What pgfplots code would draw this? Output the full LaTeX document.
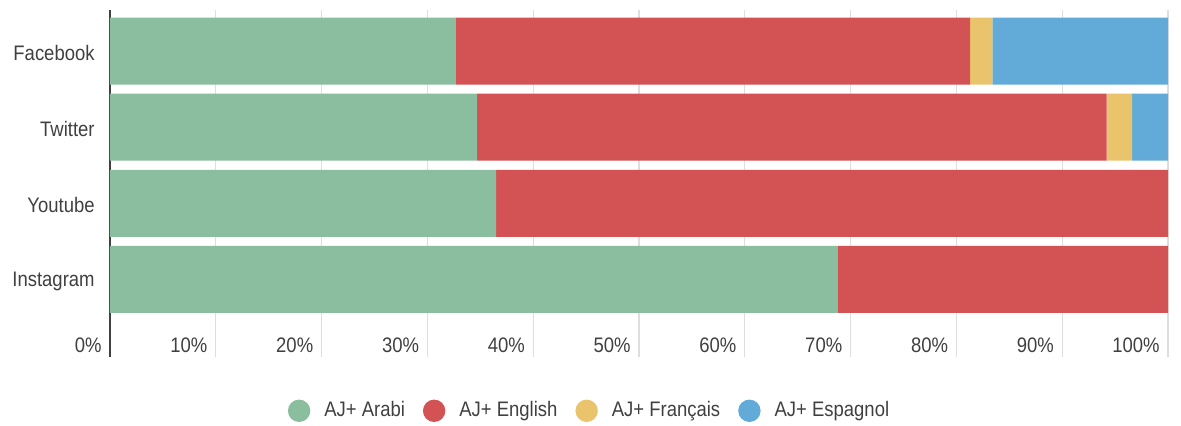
\documentclass[border=0pt]{standalone}
\usepackage{fontspec}
\setmainfont[FakeStretch=0.88]{Liberation Sans}
\usepackage{pgfplots}
\pgfplotsset{compat=1.18}
\definecolor{cA}{HTML}{8BBD9F}
\definecolor{cE}{HTML}{D35254}
\definecolor{cF}{HTML}{E9C46C}
\definecolor{cS}{HTML}{62ABD8}
\definecolor{txt}{HTML}{404040}
\definecolor{gridc}{HTML}{DEDEDE}
\begin{document}
\begin{tikzpicture}
\useasboundingbox (-55pt,-34pt) rectangle (535.5pt,178.5pt);
\begin{axis}[
  at={(0,0)}, anchor=south west,
  scale only axis, width=529pt, height=173.5pt,
  xbar stacked, bar width=33.5pt,
  xmin=0, xmax=100, ymin=-1.02, ymax=3.54,
  xtick={0,10,...,100},
  xticklabels={0\%,10\%,20\%,30\%,40\%,50\%,60\%,70\%,80\%,90\%,100\%},
  ytick={0,1,2,3},
  yticklabels={Instagram,Youtube,Twitter,Facebook},
  major tick length=0pt,
  xmajorgrids, grid style={gridc, line width=0.6pt},
  axis x line*=bottom, axis y line*=left,
  x axis line style={draw=none},
  y axis line style={draw=txt, line width=1pt},
  xticklabel style={anchor=base east, inner sep=0pt, xshift=-4pt, yshift=2.5pt,
    font=\fontsize{10.5}{12}\selectfont, text=txt},
  yticklabel style={anchor=east, inner sep=0pt, xshift=-7.5pt, yshift=-0.8pt,
    font=\fontsize{10.5}{12}\selectfont, text=txt},
  legend style={draw=none, fill=none, at={(rel axis cs:0.4542,-0.155)}, anchor=center,
    legend columns=4, font=\fontsize{10.5}{12}\selectfont, text=txt,
    /tikz/every odd column/.append style={column sep=5pt},
    /tikz/every even column/.append style={column sep=7pt}},
  legend image code/.code={\fill[#1] (5.6pt,0pt) circle (5.6pt);},
  legend cell align=left,
]
\addplot[fill=cA, draw=none] coordinates {(68.8,0) (36.5,1) (34.7,2) (32.7,3)};
\addplot[fill=cE, draw=none] coordinates {(31.2,0) (63.5,1) (59.5,2) (48.6,3)};
\addplot[fill=cF, draw=none] coordinates {(0,0) (0,1) (2.4,2) (2.1,3)};
\addplot[fill=cS, draw=none] coordinates {(0,0) (0,1) (3.4,2) (16.6,3)};
\legend{AJ+ Arabi, AJ+ English, AJ+ Français, AJ+ Espagnol}
\end{axis}
\end{tikzpicture}
\end{document}
